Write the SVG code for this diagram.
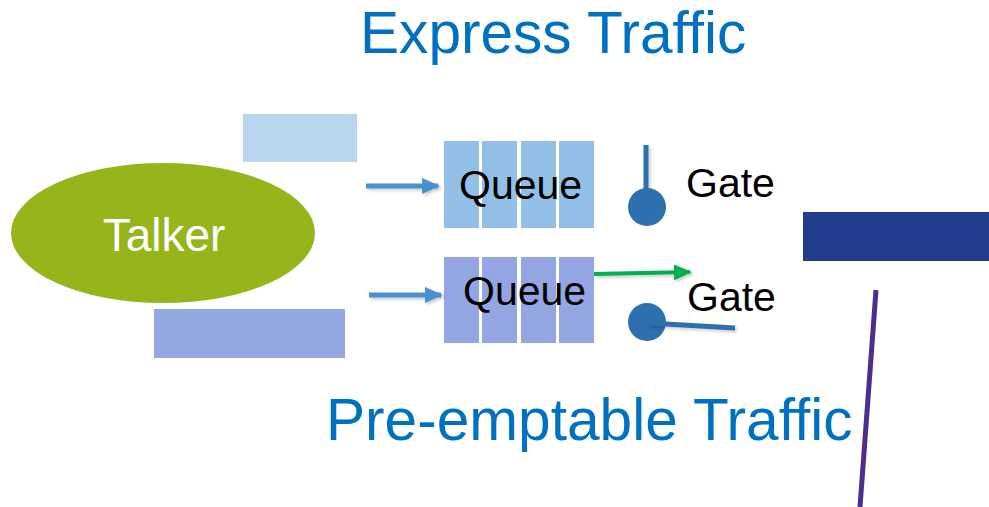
<svg xmlns="http://www.w3.org/2000/svg" width="989" height="507" viewBox="0 0 989 507">
  <style>
    .title { font-family: "Liberation Sans", Arial, sans-serif; font-size: 58.6px; fill: #0070c0; }
    .label { font-family: "Liberation Sans", Arial, sans-serif; font-size: 41px; fill: #000000; }
    .talker { font-family: "Liberation Sans", Arial, sans-serif; font-size: 46px; fill: #ffffff; }
    .cellA { fill: #92bfe6; }
    .cellB { fill: #94a6e2; }
    .flow { stroke: #4a90d0; stroke-width: 5; fill: none; }
    .gate { stroke: #2e6fae; stroke-width: 5; fill: none; }
  </style>
  <defs>
    <marker id="head-blue" viewBox="0 0 18 16" refX="16" refY="8" markerWidth="18" markerHeight="16" orient="auto" markerUnits="userSpaceOnUse">
      <path d="M0,0 L18,8 L0,16 Z" fill="#4a90d0"/>
    </marker>
    <marker id="head-green" viewBox="0 0 18 16" refX="16" refY="8" markerWidth="18" markerHeight="16" orient="auto" markerUnits="userSpaceOnUse">
      <path d="M0,0 L18,8 L0,16 Z" fill="#00b050"/>
    </marker>
    <filter id="soft" filterUnits="userSpaceOnUse" x="0" y="0" width="989" height="507">
      <feDropShadow dx="2" dy="2" stdDeviation="1.5" flood-color="#000000" flood-opacity="0.2"/>
    </filter>
  </defs>

  <rect width="989" height="507" fill="#ffffff"/>

  <text class="title" x="360" y="53">Express Traffic</text>
  <text class="title" x="326" y="440">Pre-emptable Traffic</text>

  <!-- plain colour blocks -->
  <rect x="243" y="114" width="114" height="48" fill="#b7d5ee"/>
  <rect x="154" y="309" width="191" height="49" fill="#94a7e1"/>
  <rect x="803" y="212" width="186" height="49" fill="#213d8b"/>

  <g id="talker">
    <ellipse cx="163" cy="233" rx="152" ry="70" fill="#96b51a"/>
    <text class="talker" x="164" y="251" text-anchor="middle">Talker</text>
  </g>

  <g id="queue-express">
    <rect class="cellA" x="444" y="141" width="35" height="87"/>
    <rect class="cellA" x="482" y="141" width="35" height="87"/>
    <rect class="cellA" x="521" y="141" width="35" height="87"/>
    <rect class="cellA" x="559" y="141" width="35" height="87"/>
    <text class="label" x="459" y="199">Queue</text>
  </g>

  <g id="queue-preemptable">
    <rect class="cellB" x="444" y="257" width="35" height="86"/>
    <rect class="cellB" x="482" y="257" width="35" height="86"/>
    <rect class="cellB" x="521" y="257" width="35" height="86"/>
    <rect class="cellB" x="559" y="257" width="35" height="86"/>
    <text class="label" x="463" y="305">Queue</text>
  </g>

  <g id="gate-express">
    <line class="gate" x1="646" y1="145" x2="646" y2="210" filter="url(#soft)"/>
    <circle cx="647" cy="207" r="19" fill="#2e6fae"/>
    <text class="label" x="686" y="197">Gate</text>
  </g>

  <g id="gate-preemptable">
    <circle cx="647" cy="322" r="19" fill="#2e6fae"/>
    <line class="gate" x1="648" y1="323" x2="735" y2="328" filter="url(#soft)"/>
    <text class="label" x="687" y="311">Gate</text>
  </g>

  <g id="connectors">
    <line class="flow" x1="366" y1="186" x2="438" y2="186" marker-end="url(#head-blue)" filter="url(#soft)"/>
    <line class="flow" x1="369" y1="295" x2="441" y2="295" marker-end="url(#head-blue)" filter="url(#soft)"/>
    <line x1="594" y1="274" x2="690" y2="272" stroke="#00b050" stroke-width="4" marker-end="url(#head-green)" filter="url(#soft)"/>
    <line x1="876" y1="290" x2="860" y2="507" stroke="#4f2d8c" stroke-width="5"/>
  </g>
</svg>
